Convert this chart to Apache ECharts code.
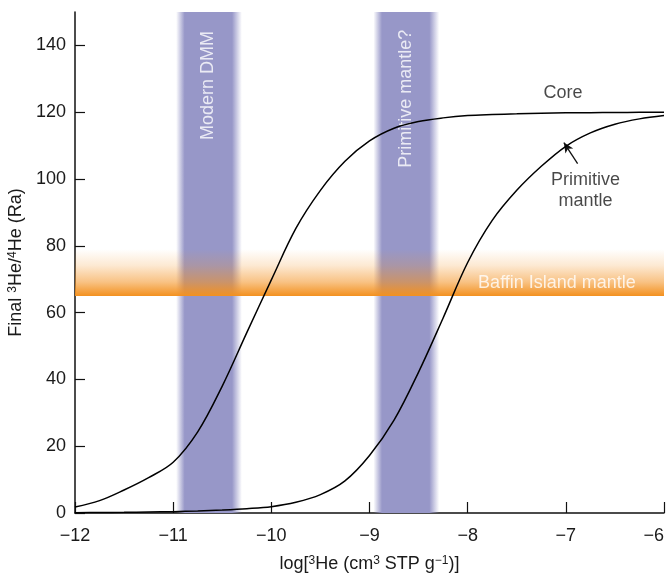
<!DOCTYPE html>
<html>
<head>
<meta charset="utf-8">
<script src="https://cdn.jsdelivr.net/npm/echarts@6/dist/echarts.min.js"></script>
<style>
html,body{margin:0;padding:0;background:#fff;}
#chart{width:667px;height:575px;}
</style>
</head>
<body>
<div id="chart"></div>
<script>
// ---- data ----
var xTicks = [-12, -11, -10, -9, -8, -7, -6];
var yTicks = [0, 20, 40, 60, 80, 100, 120, 140];

var curveX = [-12, -11.75, -11.5, -11.25, -11, -10.75, -10.5, -10.25, -10, -9.75, -9.5, -9.25, -9, -8.75, -8.5, -8.25, -8, -7.75, -7.5, -7.25, -7, -6.75, -6.5, -6.25, -6];
var coreY = [1.8, 3.7, 6.9, 10.6, 15.2, 24.3, 38.0, 54.0, 69.8, 85.2, 96.6, 105.3, 111.4, 115.2, 117.2, 118.3, 119.0, 119.3, 119.5, 119.7, 119.8, 119.85, 119.9, 119.95, 120.0];
var primY = [0.1, 0.15, 0.2, 0.3, 0.4, 0.6, 0.9, 1.3, 1.9, 3.2, 5.5, 9.6, 17.2, 27.8, 42.2, 58.4, 75.0, 87.6, 96.6, 103.8, 109.8, 113.8, 116.4, 118.0, 119.0];

var dmmBand = [-10.97, -10.30];
var pmBand = [-8.96, -8.29];
var baffinBand = [65, 79];

var bandLabels = ['Modern DMM', 'Primitive mantle?'];
var bandLabelPos = [[-10.64, 128], [-8.63, 124]];
var baffinLabel = 'Baffin Island mantle';
var baffinLabelPos = [-7.09, 68.8];
var curveLabels = ['Core', 'Primitive\nmantle'];
var curveLabelPos = [[-7.03, 125.6], [-6.80, 96.6]];
var arrowFrom = [-6.88, 104.6];
var arrowTo = [-7.02, 110.9];

// ---- build ----
function pairs(xs, ys) { return xs.map(function (x, i) { return [x, ys[i]]; }); }
var FONT = '"Liberation Sans", Arial, Helvetica, sans-serif';
var blue = function () {
  return {
    type: 'linear', x: 0, y: 0, x2: 1, y2: 0,
    colorStops: [
      { offset: 0, color: 'rgba(151,151,200,0)' },
      { offset: 0.13, color: 'rgba(151,151,200,1)' },
      { offset: 0.85, color: 'rgba(151,151,200,1)' },
      { offset: 1, color: 'rgba(151,151,200,0)' }
    ]
  };
};
var orange = {
  type: 'linear', x: 0, y: 0, x2: 0, y2: 1,
  colorStops: [
    { offset: 0, color: 'rgba(243,145,32,0)' },
    { offset: 0.35, color: 'rgba(243,145,32,0.2)' },
    { offset: 0.7, color: 'rgba(243,145,32,0.55)' },
    { offset: 1, color: 'rgba(243,145,32,1)' }
  ]
};

var chart = echarts.init(document.getElementById('chart'), null, { renderer: 'canvas' });
var option = {
  animation: false,
  backgroundColor: '#fff',
  textStyle: { fontFamily: FONT },
  grid: { left: 75, right: 3, top: 12, bottom: 62, containLabel: false, outerBoundsMode: 'none' },
  xAxis: {
    type: 'value', min: xTicks[0], max: xTicks[xTicks.length - 1], interval: 1,
    splitLine: { show: false },
    axisLine: { onZero: false, lineStyle: { color: '#111', width: 1.5 } },
    axisTick: { inside: true, length: 11, lineStyle: { color: '#111', width: 1.2 } },
    axisLabel: {
      margin: 14, fontSize: 18, color: '#1a1a1a', fontFamily: FONT, alignMaxLabel: 'right',
      formatter: function (v) { return String(v).replace('-', '\u2212'); }
    },
    name: 'log[{sup|3}He (cm{sup|3} STP g{sup|\u22121})]',
    nameLocation: 'middle', nameGap: 42,
    nameTextStyle: {
      fontSize: 18, color: '#1a1a1a', fontFamily: FONT,
      rich: { sup: { fontSize: 12, verticalAlign: 'top', color: '#1a1a1a', fontFamily: FONT } }
    }
  },
  yAxis: {
    type: 'value', min: 0, max: 150, interval: 20,
    splitLine: { show: false },
    axisLine: { show: true, lineStyle: { color: '#111', width: 1.5 } },
    axisTick: { inside: true, length: 10, customValues: yTicks, lineStyle: { color: '#111', width: 1.2 } },
    axisLabel: { margin: 9, fontSize: 18, color: '#1a1a1a', fontFamily: FONT, customValues: yTicks },
    name: 'Final {sup|3}He/{sup|4}He (Ra)',
    nameLocation: 'middle', nameGap: 46, nameRotate: 90,
    nameTextStyle: {
      fontSize: 18, color: '#1a1a1a', fontFamily: FONT,
      rich: { sup: { fontSize: 12, verticalAlign: 'top', color: '#1a1a1a', fontFamily: FONT } }
    }
  },
  series: [
    {
      name: 'blueBands', type: 'line', data: [], z: 1, silent: true,
      markArea: {
        silent: true,
        itemStyle: { color: blue() },
        data: [
          [{ xAxis: dmmBand[0], yAxis: 0, itemStyle: { color: blue() } }, { xAxis: dmmBand[1], yAxis: 150 }],
          [{ xAxis: pmBand[0], yAxis: 0, itemStyle: { color: blue() } }, { xAxis: pmBand[1], yAxis: 150 }]
        ]
      }
    },
    {
      name: 'orangeBand', type: 'line', data: [], z: 2, silent: true,
      markArea: {
        silent: true,
        itemStyle: { color: orange },
        data: [
          [{ xAxis: xTicks[0], yAxis: baffinBand[0] }, { xAxis: xTicks[xTicks.length - 1], yAxis: baffinBand[1] }]
        ]
      }
    },
    {
      name: 'bandText', type: 'scatter', z: 3, symbolSize: 0, silent: true,
      data: bandLabelPos.map(function (p, i) { return { value: p, name: bandLabels[i] }; }),
      label: {
        show: true, position: 'inside', rotate: 90, formatter: '{b}',
        color: '#fff', fontSize: 18, fontFamily: FONT
      }
    },
    {
      name: 'baffinText', type: 'scatter', z: 3, symbolSize: 0, silent: true,
      data: [{ value: baffinLabelPos, name: baffinLabel }],
      label: { show: true, position: 'inside', formatter: '{b}', color: '#fff', fontSize: 18, fontFamily: FONT }
    },
    {
      name: 'Core', type: 'line', z: 5, data: pairs(curveX, coreY),
      smooth: 0.35, showSymbol: false, symbol: 'none',
      lineStyle: { color: '#000', width: 1.5 }
    },
    {
      name: 'Primitive mantle', type: 'line', z: 5, data: pairs(curveX, primY),
      smooth: 0.35, showSymbol: false, symbol: 'none',
      lineStyle: { color: '#000', width: 1.5 },
      markLine: {
        silent: true, symbol: ['none', 'arrow'], symbolSize: [7, 10],
        lineStyle: { color: '#111', width: 1.3, type: 'solid' },
        label: { show: false },
        data: [[{ coord: arrowFrom }, { coord: arrowTo }]]
      }
    },
    {
      name: 'curveText', type: 'scatter', z: 6, symbolSize: 0, silent: true,
      data: curveLabelPos.map(function (p, i) { return { value: p, name: curveLabels[i] }; }),
      label: {
        show: true, position: 'inside', formatter: '{b}', align: 'center',
        color: '#1a1a1a', fontSize: 18, lineHeight: 21, fontFamily: FONT
      }
    }
  ]
};
chart.setOption(option);
</script>
</body>
</html>
